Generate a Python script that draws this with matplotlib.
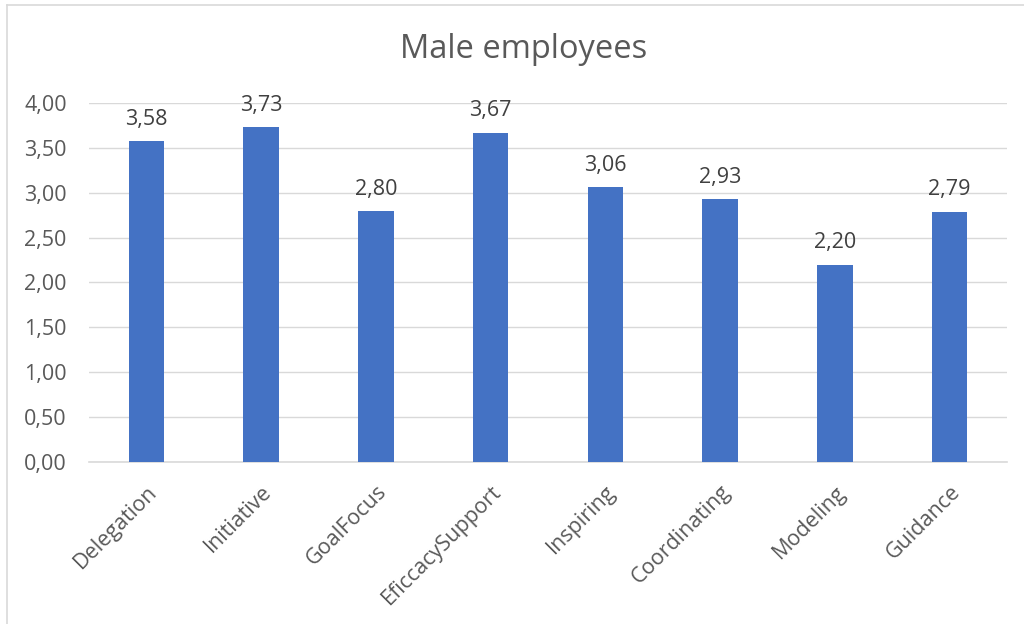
import matplotlib
matplotlib.use('Agg')
import matplotlib.pyplot as plt
import numpy as np
from matplotlib.lines import Line2D

# mean scores per leadership dimension, male employees
categories=['Delegation','Initiative','GoalFocus','EficcacySupport','Inspiring','Coordinating','Modeling','Guidance']
scores=[3.58,3.73,2.80,3.67,3.06,2.93,2.20,2.79]
yticks=[0.0,0.5,1.0,1.5,2.0,2.5,3.0,3.5,4.0]

plt.rcParams['font.family']=['Open Sans','DejaVu Sans']
txtcol='#595959'
barcol='#4472C4'
gridcol='#D9D9D9'
fs=15.5

fig=plt.figure(figsize=(10.24,6.24),dpi=100)
ax=fig.add_axes([0.0869,0.2596,0.8965,0.5754])

x=np.arange(len(categories))
bars=ax.bar(x,scores,width=0.31,color=barcol,zorder=3)
for crbar,crval in zip(bars,scores):
    ax.annotate(('%.2f'%crval).replace('.',','),(crbar.get_x()+crbar.get_width()/2,crval),
                xytext=(0,8),textcoords='offset points',ha='center',va='bottom',
                fontsize=fs,color='#404040')

ax.set_xlim(-0.5,len(categories)-0.5)
ax.set_ylim(0,4)
ax.set_yticks(yticks)
ax.set_yticklabels([('%.2f'%v).replace('.',',') for v in yticks],fontsize=fs,color=txtcol)
ax.set_xticks(x)
ax.set_xticklabels(categories,rotation=45,ha='right',rotation_mode='anchor',fontsize=fs,color=txtcol)
ax.tick_params(axis='both',length=0)
ax.tick_params(axis='y',pad=16)
ax.tick_params(axis='x',pad=14)
ax.grid(axis='y',color=gridcol,linewidth=1,zorder=0)
for sp in ['top','right','left']:
    ax.spines[sp].set_visible(False)
ax.spines['bottom'].set_color(gridcol)
ax.spines['bottom'].set_linewidth(1.2)

fig.text(0.5115,0.921,'Male employees',ha='center',va='center',fontsize=23.5,color=txtcol)

# chart frame (top and left edges visible)
fig.add_artist(Line2D([7/1024,1],[1-5/624,1-5/624],color=gridcol,linewidth=1.2))
fig.add_artist(Line2D([7/1024,7/1024],[0,1-5/624],color=gridcol,linewidth=1.2))

plt.savefig('out.png',dpi=100)
